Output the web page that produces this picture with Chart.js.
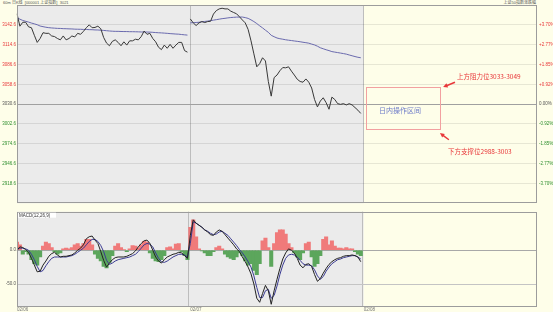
<!DOCTYPE html>
<html>
<head>
<meta charset="utf-8">
<script src="https://cdn.jsdelivr.net/npm/chart.js@4.4.1/dist/chart.umd.min.js"></script>
<style>
html,body{margin:0;padding:0;background:#fefee9;}
#wrap{position:relative;width:553px;height:312px;overflow:hidden;}
#main{position:absolute;left:0;top:0;}
#macd{position:absolute;left:0;top:208px;}
.hd{position:absolute;top:0;font-size:4px;font-family:'Liberation Sans','Noto Sans CJK SC',sans-serif;color:#555;white-space:nowrap;line-height:5px;}
</style>
</head>
<body>
<div id="wrap">
  <div class="hd" style="left:3px">60m 日K线&nbsp;&nbsp;[000001 上证指数]&nbsp;&nbsp;3021</div>
  <div class="hd" style="right:17px">上证50指数涨跌幅</div>
  <canvas id="main" width="553" height="208"></canvas>
  <canvas id="macd" width="553" height="104"></canvas>
</div>
<script>
// three sessions, only two traded so far
var days = ['02/06', '02/07', '02/08']
var perDay = 60
var prevClose = 3030.6

var priceTicks = [3142.6, 3114.6, 3086.6, 3058.6, 3030.6, 3002.6, 2974.6, 2946.6, 2918.6]
var pctTicks = ['+3.70%', '+2.77%', '+1.85%', '+0.92%', '0.00%', '-0.92%', '-1.85%', '-2.77%', '-3.70%']
var macdTicks = [0, -50]

var price1 = [3158.2, 3140.7, 3146.2, 3146.2, 3139.8, 3138.5, 3127.8, 3117.8, 3123.3, 3131.5,
  3130.6, 3130.6, 3126.9, 3126.0, 3123.3, 3121.4, 3126.9, 3121.4, 3123.3, 3126.9,
  3125.5, 3130.6, 3129.2, 3133.4, 3138.5, 3142.6, 3138.5, 3138.9, 3140.7, 3137.1,
  3124.7, 3116.8, 3113.1, 3119.2, 3121.4, 3117.8, 3113.1, 3118.6, 3114.0, 3120.0,
  3120.0, 3122.3, 3121.4, 3126.0, 3133.8, 3129.2, 3130.6, 3123.3, 3118.6, 3110.9,
  3107.6, 3114.0, 3109.5, 3115.0, 3109.5, 3114.0, 3117.8, 3117.8, 3106.2, 3104.0]
var price2 = [3150.9, 3145.4, 3141.6, 3145.4, 3147.2, 3145.8, 3147.2, 3147.6, 3157.8, 3162.7,
  3165.1, 3166.0, 3165.1, 3165.1, 3161.9, 3160.0, 3158.2, 3154.0, 3149.5, 3145.4,
  3136.1, 3120.0, 3101.6, 3083.3, 3087.8, 3096.1, 3091.6, 3062.6, 3041.9, 3068.1,
  3071.7, 3077.8, 3082.3, 3081.9, 3083.3, 3077.2, 3071.7, 3065.8, 3062.6, 3061.6,
  3066.2, 3061.6, 3053.4, 3037.2, 3026.7, 3035.0, 3039.6, 3032.7, 3023.4, 3040.5,
  3037.2, 3031.3, 3030.3, 3031.3, 3029.5, 3031.3, 3029.5, 3025.8, 3022.1, 3017.5]

var avg1 = [3152.7, 3150.6, 3148.8, 3147.6, 3146.5, 3145.1, 3144.0, 3142.7, 3140.9, 3140.0,
  3139.2, 3138.6, 3138.2, 3137.9, 3137.6, 3137.5, 3137.2, 3137.1, 3136.9, 3136.8,
  3136.5, 3136.4, 3136.3, 3136.1, 3136.0, 3135.8, 3135.7, 3135.4, 3135.3, 3135.0,
  3134.7, 3134.3, 3133.9, 3133.6, 3133.4, 3133.4, 3133.2, 3133.1, 3133.1, 3132.9,
  3132.9, 3132.8, 3132.7, 3132.5, 3132.5, 3132.4, 3132.3, 3132.0, 3131.7, 3131.4,
  3131.2, 3130.9, 3130.6, 3130.2, 3129.9, 3129.6, 3129.4, 3128.9, 3128.5, 3128.1]
var avg2 = [3145.4, 3145.6, 3145.9, 3146.2, 3146.9, 3147.4, 3147.9, 3148.5, 3149.2, 3149.9,
  3150.6, 3151.3, 3151.8, 3152.4, 3152.9, 3153.2, 3153.5, 3153.6, 3153.6, 3152.8,
  3151.7, 3149.6, 3147.2, 3144.4, 3141.2, 3138.3, 3135.0, 3132.0, 3127.8, 3125.8,
  3124.0, 3123.0, 3122.3, 3121.5, 3120.9, 3120.4, 3119.8, 3119.3, 3118.7, 3118.0,
  3117.4, 3116.7, 3115.4, 3114.2, 3112.4, 3110.2, 3108.8, 3107.4, 3106.2, 3104.8,
  3104.1, 3103.4, 3102.7, 3102.0, 3101.2, 3100.0, 3098.9, 3097.8, 3096.8, 3096.1]

var hist1 = [12, 8, -6, -2, -6, -14, -20, -22, -10, 6,
  12, 10, 4, -2, -6, -4, 2, 3, 2, 4,
  8, 10, 6, 10, 16, 16, 8, -6, -12, -16,
  -24, -26, -18, -8, 6, 10, 4, 1, -2, 2,
  7, 6, 3, 8, 13, 12, -4, -12, -16, -17,
  -14, -8, 4, 5, 2, 9, 10, -2, -8, -14]
var hist2 = [34, 45, 20, 2, -1, -4, -8, -8, -2, 4,
  6, 2, -6, -10, -12, -14, -10, -4, -8, -16,
  -22, -20, -30, -36, -20, 14, 18, 4, -24, 10,
  26, 30, 30, 24, 10, 4, -4, -10, -14, -4,
  10, 12, -10, -24, -20, -8, 16, 20, 8, 14,
  6, 3, 3, 2, 4, 2, 2, -2, -6, -8]

var dif1 = [0, 5, 4, 1, -3, -12, -22, -32, -31, -22,
  -16, -9, -5, -3, -7, -10, -9, -9, -8, -7,
  -4, 0, 3, 8, 17, 20, 21, 15, 10, -2,
  -15, -25, -19, -14, -11, -10, -10, -10, -9, -7,
  -5, -1, 5, 10, 14, 15, 10, 0, -10, -16,
  -19, -14, -10, -8, -6, -5, -3, -4, -8, -12]
var dif2 = [22, 45, 40, 37, 34, 30, 27, 23, 22, 27,
  30, 28, 23, 18, 13, 8, 2, -2, -10, -17,
  -25, -35, -50, -71, -77, -64, -52, -60, -80, -60,
  -43, -27, -13, -4, 2, 0, -4, -12, -22, -26,
  -21, -20, -24, -36, -46, -42, -34, -27, -21, -17,
  -14, -12, -11, -9, -8, -8, -7, -8, -10, -17]

var dea1 = [1, 3, 3, 2, 0, -6, -14, -24, -32, -30,
  -23, -17, -12, -10, -10, -10, -10, -10, -9, -8,
  -6, -3, 0, 3, 8, 13, 16, 16, 13, 7,
  -2, -15, -21, -19, -16, -14, -13, -12, -11, -10,
  -8, -6, -2, 3, 8, 10, 9, 5, -4, -12,
  -17, -18, -16, -13, -10, -8, -6, -6, -7, -10]
var dea2 = [10, 42, 40, 37, 34, 30, 28, 25, 23, 24,
  27, 28, 25, 22, 17, 12, 7, 1, -4, -10,
  -17, -25, -38, -55, -70, -70, -60, -58, -71, -67,
  -53, -36, -22, -12, -7, -6, -7, -10, -15, -20,
  -22, -22, -23, -29, -38, -43, -39, -31, -25, -20,
  -17, -14, -13, -11, -10, -9, -8, -8, -10, -13]

// annotation placement (category index / price)
var zone = {from: 120.8, to: 146.4, hi: 3054.3, lo: 2994.5}

var labels = []
days.forEach(function(d){
  for (var i = 0; i < perDay; i++) labels.push(d + ' ' + i)
})
labels.push('close')

var FONT = "'Liberation Sans','Noto Sans CJK SC',sans-serif"
var CJK = "'Noto Sans CJK SC',sans-serif"
var RED = '#e8383a', GREEN = '#2f8f2f'

function sepColor(ctx){
  return (ctx.index === perDay || ctx.index === perDay * 2) ? '#bdbdbd' : 'rgba(0,0,0,0)'
}
function tickColor(ctx){
  var v = ctx.tick.value
  if (Math.abs(v - prevClose) < 0.01) return '#555'
  return v > prevClose ? RED : GREEN
}
function setTicks(list){
  return function(axis){ axis.ticks = list.map(function(v){ return {value: v} }) }
}
function dayGap(c){
  return c.p0DataIndex === perDay - 1 ? 'rgba(0,0,0,0)' : undefined
}

var background = {
  id: 'background',
  beforeDraw: function(chart){
    var a = chart.chartArea, ctx = chart.ctx
    var xe = chart.scales.x.getPixelForValue(perDay * 2)
    ctx.save()
    ctx.fillStyle = '#ebebeb'
    ctx.fillRect(a.left, a.top, xe - a.left, a.bottom - a.top)
    ctx.restore()
  },
  afterDraw: function(chart){
    var a = chart.chartArea, ctx = chart.ctx
    ctx.save()
    ctx.strokeStyle = '#9c9c9c'
    ctx.lineWidth = 1
    ctx.strokeRect(Math.round(a.left) + 0.5, Math.round(a.top) + 0.5,
      Math.round(a.right - a.left) - 1, Math.round(a.bottom - a.top) - 1)
    ctx.restore()
  }
}

function arrow(ctx, x0, y0, x1, y1){
  var ang = Math.atan2(y1 - y0, x1 - x0)
  ctx.beginPath()
  ctx.moveTo(x0, y0)
  ctx.lineTo(x1 - 3 * Math.cos(ang), y1 - 3 * Math.sin(ang))
  ctx.stroke()
  ctx.beginPath()
  ctx.moveTo(x1, y1)
  ctx.lineTo(x1 - 5 * Math.cos(ang - 0.45), y1 - 5 * Math.sin(ang - 0.45))
  ctx.lineTo(x1 - 5 * Math.cos(ang + 0.45), y1 - 5 * Math.sin(ang + 0.45))
  ctx.closePath()
  ctx.fill()
}

var notes = {
  id: 'notes',
  afterDraw: function(chart){
    var xs = chart.scales.x, ys = chart.scales.y, ctx = chart.ctx
    var X = function(i){ return xs.getPixelForValue(i) }
    var Y = function(v){ return ys.getPixelForValue(v) }
    ctx.save()
    ctx.strokeStyle = '#f2a0a0'
    ctx.lineWidth = 1
    ctx.strokeRect(Math.round(X(zone.from)) + 0.5, Math.round(Y(zone.hi)) + 0.5,
      Math.round(X(zone.to) - X(zone.from)), Math.round(Y(zone.lo) - Y(zone.hi)))
    ctx.textBaseline = 'middle'
    ctx.fillStyle = '#6d7bc9'
    ctx.font = '7px ' + CJK
    ctx.textAlign = 'center'
    ctx.fillText('日内操作区间', X(132.6), Y(3021.2))
    ctx.textAlign = 'left'
    ctx.fillStyle = RED
    ctx.font = '6.5px ' + CJK
    ctx.fillText('上方阻力位3033-3049', X(152.3), Y(3069.9))
    ctx.fillText('下方支撑位2988-3003', X(149.2), Y(2963.0))
    ctx.strokeStyle = RED
    ctx.lineWidth = 1.5
    arrow(ctx, X(151.6), Y(3061.6), X(147.5), Y(3054.7))
    arrow(ctx, X(149.5), Y(2980.3), X(146.4), Y(2989.9))
    ctx.restore()
  }
}

var macdTitle = {
  id: 'macdTitle',
  afterDraw: function(chart){
    var a = chart.chartArea, ctx = chart.ctx
    ctx.save()
    ctx.fillStyle = '#ffffff'
    ctx.fillRect(a.left + 1, a.top + 1, 38, 5)
    ctx.fillStyle = '#333'
    ctx.font = '4.5px ' + FONT
    ctx.textBaseline = 'middle'
    ctx.fillText('MACD(12,26,9)', a.left + 2, a.top + 3.7)
    ctx.restore()
  }
}

Chart.defaults.font.family = FONT

new Chart(document.getElementById('main'), {
  type: 'line',
  data: {
    labels: labels,
    datasets: [
      {
        label: '价格',
        data: price1.concat(price2),
        borderColor: '#383838',
        borderWidth: 1,
        pointRadius: 0,
        segment: {borderColor: dayGap}
      },
      {
        label: '均价',
        data: avg1.concat(avg2),
        borderColor: '#6a6aae',
        borderWidth: 1,
        pointRadius: 0,
        segment: {borderColor: dayGap}
      }
    ]
  },
  options: {
    responsive: false,
    animation: false,
    events: [],
    layout: {padding: {top: 5, left: 0, right: 0, bottom: 0}, autoPadding: false},
    plugins: {legend: {display: false}, tooltip: {enabled: false}},
    scales: {
      x: {
        offset: false,
        ticks: {display: false, autoSkip: false},
        grid: {color: sepColor, drawTicks: false},
        border: {display: false},
        afterFit: function(s){ s.height = 0 }
      },
      y: {
        position: 'left',
        min: 2890.6, max: 3170.6,
        afterBuildTicks: setTicks(priceTicks),
        afterFit: function(s){ s.width = 17 },
        ticks: {font: {size: 4.5}, color: tickColor, padding: 1, callback: function(v){ return v.toFixed(1) }},
        grid: {
          drawTicks: false,
          color: function(c){ return Math.abs(c.tick.value - prevClose) < 0.01 ? '#a0a0a0' : 'rgba(0,0,0,0.09)' }
        },
        border: {display: false}
      },
      y1: {
        position: 'right',
        min: 2890.6, max: 3170.6,
        afterBuildTicks: setTicks(priceTicks),
        afterFit: function(s){ s.width = 16 },
        ticks: {font: {size: 4.5}, color: tickColor, padding: 2, callback: function(v, i){ return pctTicks[i] }},
        grid: {display: false, drawTicks: false},
        border: {display: false}
      }
    }
  },
  plugins: [background, notes]
})

new Chart(document.getElementById('macd'), {
  type: 'bar',
  data: {
    labels: labels,
    datasets: [
      {
        type: 'line',
        label: 'DIF',
        data: dif1.concat(dif2),
        borderColor: '#222',
        borderWidth: 1,
        pointRadius: 0,
        order: 1
      },
      {
        type: 'line',
        label: 'DEA',
        data: dea1.concat(dea2),
        borderColor: '#3b3b92',
        borderWidth: 1,
        pointRadius: 0,
        order: 1
      },
      {
        type: 'bar',
        label: 'MACD',
        data: hist1.concat(hist2),
        backgroundColor: function(c){ return c.raw >= 0 ? '#f07a7a' : '#5ca65c' },
        borderWidth: 0,
        barThickness: 3.4,
        order: 2
      }
    ]
  },
  options: {
    responsive: false,
    animation: false,
    events: [],
    layout: {padding: 0, autoPadding: false},
    plugins: {legend: {display: false}, tooltip: {enabled: false}},
    scales: {
      x: {
        offset: false,
        ticks: {
          autoSkip: false, maxRotation: 0, align: 'start', padding: 0,
          font: {size: 4.5}, color: '#777',
          callback: function(v, i){ return (i % perDay === 0 && i < labels.length - 1) ? days[i / perDay] : '' }
        },
        grid: {color: sepColor, drawTicks: false},
        border: {display: false},
        afterFit: function(s){ s.height = 5 }
      },
      y: {
        position: 'left',
        min: -84, max: 57,
        afterBuildTicks: setTicks(macdTicks),
        afterFit: function(s){ s.width = 17 },
        ticks: {font: {size: 4.5}, color: '#555', padding: 1, callback: function(v){ return v.toFixed(1) }},
        grid: {drawTicks: false, color: function(c){ return c.tick.value === 0 ? '#a8a8a8' : '#c4c4c4' }},
        border: {display: false}
      },
      y1: {
        position: 'right',
        min: -84, max: 57,
        afterFit: function(s){ s.width = 16 },
        ticks: {display: false},
        grid: {display: false, drawTicks: false},
        border: {display: false}
      }
    }
  },
  plugins: [background, macdTitle]
})
</script>
</body>
</html>
